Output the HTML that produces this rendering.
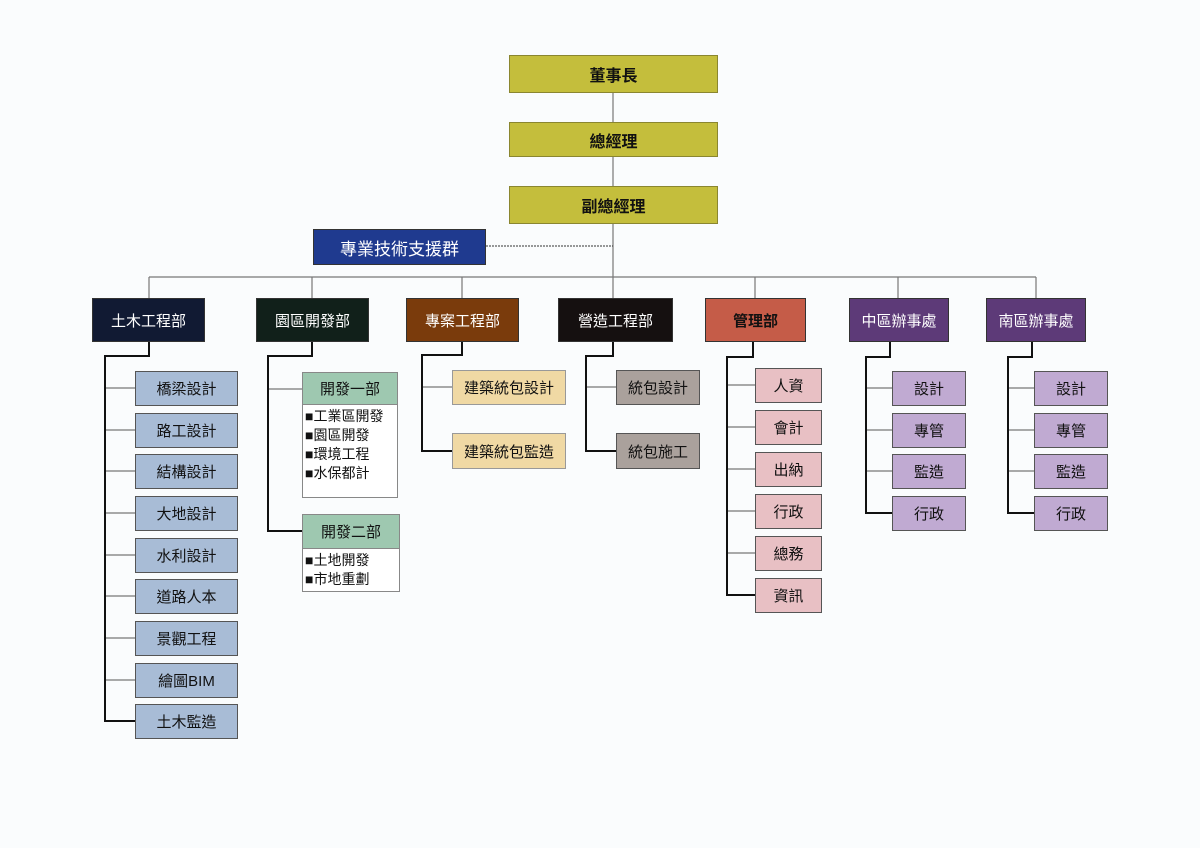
<!DOCTYPE html>
<html><head><meta charset="utf-8"><style>
body{margin:0;background:#fafcfd;}
#c{position:relative;width:1200px;height:848px;overflow:hidden;font-family:"Liberation Sans","Noto Sans CJK TC",sans-serif;}
.b{position:absolute;box-sizing:border-box;display:flex;align-items:center;justify-content:center;font-size:15px;color:#111;border:1px solid #555;}
.d{color:#fff;font-size:15px;border:1px solid #333;}
.t{background:#c4be3c;font-size:16px;font-weight:bold;border-color:#8a8630;}
.lst{position:absolute;box-sizing:border-box;background:#fff;border:1px solid #888;font-size:14px;line-height:19px;padding:2px 0 0 2px;color:#111;}
svg{position:absolute;left:0;top:0;}
</style></head><body><div id="c">
<svg width="1200" height="848">
<g stroke="#777" stroke-width="1.2" fill="none">
<line x1="613" y1="93" x2="613" y2="277"/>
<line x1="149" y1="277" x2="1036" y2="277"/>
<line x1="149" y1="277" x2="149" y2="298"/>
<line x1="312" y1="277" x2="312" y2="298"/>
<line x1="462" y1="277" x2="462" y2="298"/>
<line x1="613" y1="277" x2="613" y2="298"/>
<line x1="755" y1="277" x2="755" y2="298"/>
<line x1="898" y1="277" x2="898" y2="298"/>
<line x1="1036" y1="277" x2="1036" y2="298"/>
<path d="M105 388H135M105 430H135M105 471H135M105 513H135M105 555H135M105 596H135M105 638H135M105 680H135"/>
<path d="M268 389H302"/>
<path d="M422 387H452"/>
<path d="M586 387H616"/>
<path d="M727 385H755M727 427H755M727 469H755M727 511H755M727 553H755"/>
<path d="M866 388H892M866 430H892M866 471H892"/>
<path d="M1008 388H1034M1008 430H1034M1008 471H1034"/>
</g>
<line x1="486" y1="246" x2="613" y2="246" stroke="#333" stroke-width="1" stroke-dasharray="2,1"/>
<g stroke="#111" stroke-width="2" fill="none">
<path d="M149 342V356H105V721H135"/>
<path d="M312 342V356H268V531H302"/>
<path d="M462 342V355H422V451H452"/>
<path d="M613 342V356H586V451H616"/>
<path d="M753 342V357H727V595H755"/>
<path d="M890 342V357H866V513H892"/>
<path d="M1032 342V357H1008V513H1034"/>
</g>
</svg>
<div class="b t" style="left:509px;top:55px;width:209px;height:38px">董事長</div>
<div class="b t" style="left:509px;top:122px;width:209px;height:35px">總經理</div>
<div class="b t" style="left:509px;top:186px;width:209px;height:38px">副總經理</div>
<div class="b d" style="left:313px;top:229px;width:173px;height:36px;background:#1f3a8f;font-size:17px">專業技術支援群</div>
<div class="b d" style="left:92px;top:298px;width:113px;height:44px;background:#111a33">土木工程部</div>
<div class="b d" style="left:256px;top:298px;width:113px;height:44px;background:#11201a">園區開發部</div>
<div class="b d" style="left:406px;top:298px;width:113px;height:44px;background:#7a3b0c">專案工程部</div>
<div class="b d" style="left:558px;top:298px;width:115px;height:44px;background:#151010">營造工程部</div>
<div class="b d" style="left:705px;top:298px;width:101px;height:44px;background:#c55c48;color:#111;font-weight:bold">管理部</div>
<div class="b d" style="left:849px;top:298px;width:100px;height:44px;background:#5d3a78">中區辦事處</div>
<div class="b d" style="left:986px;top:298px;width:100px;height:44px;background:#5d3a78">南區辦事處</div>

<div class="b" style="left:135px;top:371px;width:103px;height:35px;background:#a8bcd6">橋梁設計</div>
<div class="b" style="left:135px;top:413px;width:103px;height:35px;background:#a8bcd6">路工設計</div>
<div class="b" style="left:135px;top:454px;width:103px;height:35px;background:#a8bcd6">結構設計</div>
<div class="b" style="left:135px;top:496px;width:103px;height:35px;background:#a8bcd6">大地設計</div>
<div class="b" style="left:135px;top:538px;width:103px;height:35px;background:#a8bcd6">水利設計</div>
<div class="b" style="left:135px;top:579px;width:103px;height:35px;background:#a8bcd6">道路人本</div>
<div class="b" style="left:135px;top:621px;width:103px;height:35px;background:#a8bcd6">景觀工程</div>
<div class="b" style="left:135px;top:663px;width:103px;height:35px;background:#a8bcd6">繪圖BIM</div>
<div class="b" style="left:135px;top:704px;width:103px;height:35px;background:#a8bcd6">土木監造</div>

<div class="b" style="left:302px;top:372px;width:96px;height:33px;background:#9ec8b0;border-color:#888">開發一部</div>
<div class="lst" style="left:302px;top:404px;width:96px;height:94px">■工業區開發<br>■園區開發<br>■環境工程<br>■水保都計</div>
<div class="b" style="left:302px;top:514px;width:98px;height:35px;background:#9ec8b0;border-color:#888">開發二部</div>
<div class="lst" style="left:302px;top:548px;width:98px;height:44px">■土地開發<br>■市地重劃</div>

<div class="b" style="left:452px;top:370px;width:114px;height:35px;background:#f0d9a4;border-color:#999">建築統包設計</div>
<div class="b" style="left:452px;top:433px;width:114px;height:36px;background:#f0d9a4;border-color:#999">建築統包監造</div>
<div class="b" style="left:616px;top:370px;width:84px;height:35px;background:#aaa19c">統包設計</div>
<div class="b" style="left:616px;top:433px;width:84px;height:36px;background:#aaa19c">統包施工</div>

<div class="b" style="left:755px;top:368px;width:67px;height:35px;background:#e8c0c4">人資</div>
<div class="b" style="left:755px;top:410px;width:67px;height:35px;background:#e8c0c4">會計</div>
<div class="b" style="left:755px;top:452px;width:67px;height:35px;background:#e8c0c4">出納</div>
<div class="b" style="left:755px;top:494px;width:67px;height:35px;background:#e8c0c4">行政</div>
<div class="b" style="left:755px;top:536px;width:67px;height:35px;background:#e8c0c4">總務</div>
<div class="b" style="left:755px;top:578px;width:67px;height:35px;background:#e8c0c4">資訊</div>

<div class="b" style="left:892px;top:371px;width:74px;height:35px;background:#c0aad2">設計</div>
<div class="b" style="left:892px;top:413px;width:74px;height:35px;background:#c0aad2">專管</div>
<div class="b" style="left:892px;top:454px;width:74px;height:35px;background:#c0aad2">監造</div>
<div class="b" style="left:892px;top:496px;width:74px;height:35px;background:#c0aad2">行政</div>

<div class="b" style="left:1034px;top:371px;width:74px;height:35px;background:#c0aad2">設計</div>
<div class="b" style="left:1034px;top:413px;width:74px;height:35px;background:#c0aad2">專管</div>
<div class="b" style="left:1034px;top:454px;width:74px;height:35px;background:#c0aad2">監造</div>
<div class="b" style="left:1034px;top:496px;width:74px;height:35px;background:#c0aad2">行政</div>
</div></body></html>
